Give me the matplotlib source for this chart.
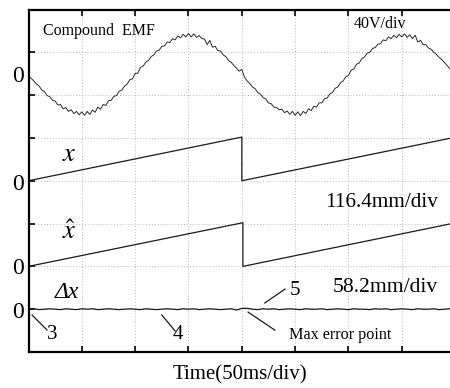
import numpy as np
import matplotlib
matplotlib.use("Agg")
import matplotlib.pyplot as plt

plt.rcParams['font.family'] = ['Liberation Serif', 'DejaVu Serif']
plt.rcParams['mathtext.fontset'] = 'stix'

# ---- data (in oscilloscope divisions) ----
EMF_STEP = 0.05          # time step between EMF samples (div)
EMF_ZERO = 6.48          # EMF channel zero level (div)
emf = [-0.03, -0.09, -0.15, -0.22, -0.27, -0.36, -0.40, -0.49, -0.52, -0.60,
       -0.62, -0.71, -0.70, -0.80, -0.77, -0.86, -0.82, -0.91, -0.86, -0.94,
       -0.87, -0.95, -0.86, -0.93, -0.83, -0.88, -0.76, -0.81, -0.70, -0.72,
       -0.61, -0.60, -0.51, -0.49, -0.39, -0.36, -0.27, -0.22, -0.12, -0.10,
       0.03, 0.03, 0.17, 0.20, 0.29, 0.33, 0.42, 0.46, 0.55, 0.57,
       0.66, 0.67, 0.76, 0.75, 0.84, 0.81, 0.90, 0.86, 0.94, 0.88,
       0.96, 0.88, 0.95, 0.87, 0.91, 0.84, 0.83, 0.70, 0.80, 0.64,
       0.66, 0.56, 0.55, 0.46, 0.42, 0.33, 0.29, 0.21, 0.15, 0.08,
       0.12, -0.06, -0.15, -0.21, -0.29, -0.33, -0.42, -0.46, -0.54, -0.57,
       -0.66, -0.68, -0.76, -0.77, -0.82, -0.81, -0.89, -0.85, -0.93, -0.86,
       -0.95, -0.87, -0.96, -0.86, -0.91, -0.80, -0.84, -0.74, -0.76, -0.66,
       -0.66, -0.56, -0.55, -0.45, -0.42, -0.32, -0.29, -0.19, -0.15, -0.05,
       -0.02, 0.10, 0.13, 0.24, 0.27, 0.37, 0.41, 0.50, 0.52, 0.61,
       0.63, 0.71, 0.72, 0.81, 0.79, 0.88, 0.84, 0.92, 0.86, 0.94,
       0.88, 0.95, 0.87, 0.93, 0.84, 0.92, 0.76, 0.80, 0.70, 0.70,
       0.62, 0.59, 0.52, 0.47, 0.40, 0.35, 0.28, 0.21, 0.14]

X_ZERO = 4.0
x_t = [0.0, 4.0, 4.0, 7.9]
x_v = [0.0, 1.02, 0.0, 0.99]

XH_ZERO = 2.0
xh_t = [0.0, 4.02, 4.02, 7.9]
xh_v = [0.0, 1.02, 0.0, 0.99]

DX_STEP = 0.1
DX_ZERO = 1.0
dx = [0.00, 0.01, -0.01, 0.00, 0.01, 0.00, -0.01, 0.01, 0.00, -0.01,
      0.01, 0.00, 0.01, -0.01, 0.00, 0.01, 0.00, -0.01, 0.00, 0.01,
      0.00, -0.01, 0.01, 0.00, -0.01, 0.00, 0.01, 0.00, -0.01, 0.01,
      0.00, 0.01, -0.01, 0.00, 0.01, 0.00, -0.01, 0.00, 0.01, -0.02,
      0.02, 0.02, 0.00, -0.01, 0.01, 0.00, 0.01, -0.01, 0.00, 0.01,
      0.00, -0.01, 0.01, 0.00, 0.00, 0.01, -0.01, 0.00, 0.01, 0.00,
      -0.01, 0.01, 0.00, 0.00, -0.01, 0.01, 0.00, 0.01, -0.01, 0.00,
      0.01, 0.00, -0.01, 0.01, 0.00, 0.00, 0.01, -0.01, 0.00, 0.01]

# ---- figure ----
fig = plt.figure(figsize=(4.5, 3.88), dpi=100)
ax = fig.add_axes([28.5 / 450, 36 / 388, 421.5 / 450, 342.5 / 388])
ax.set_xlim(0, 421.5 / 53.33)
ax.set_ylim(0, 8)
ax.set_xticks(range(0, 8))
ax.set_yticks(range(0, 9))
ax.grid(True, color='#b8b8b8', linestyle=(0, (1, 2)), linewidth=0.7)
ax.tick_params(direction='in', top=True, bottom=True, left=True, right=False,
               labelbottom=False, labelleft=False, length=4, width=1.2)
for s in ['left', 'top', 'bottom']:
    ax.spines[s].set_linewidth(1.6)
ax.spines['right'].set_visible(False)

lc = '#1a1a1a'
t_emf = np.arange(len(emf)) * EMF_STEP
ax.plot(t_emf, EMF_ZERO + np.array(emf), color='#2a2a2a', lw=0.7)
ax.plot(x_t, X_ZERO + np.array(x_v), color=lc, lw=0.9)
ax.plot(xh_t, XH_ZERO + np.array(xh_v), color=lc, lw=0.9)
t_dx = np.arange(len(dx)) * DX_STEP
ax.plot(t_dx, DX_ZERO + np.array(dx), color=lc, lw=0.9)

# zero labels
for yv in [6.43, 3.91, 1.94, 0.93]:
    ax.text(-0.197, yv, '0', fontsize=17, ha='center', va='center', clip_on=False)

ax.text(0.27, 7.50, 'Compound  EMF', fontsize=11.5, ha='left', va='center')
ax.text(6.10, 7.66, '40V/div', fontsize=11.5, ha='left', va='center')
ax.text(0.63, 4.60, '$x$', fontsize=19, ha='left', va='center')
ax.text(0.63, 2.80, r'$\hat{x}$', fontsize=19, ha='left', va='center')
ax.text(5.56, 3.50, '116.4mm/div', fontsize=15.3, ha='left', va='center')
ax.text(5.71, 1.50, '58.2mm/div', fontsize=15.6, ha='left', va='center')
ax.text(0.50, 1.38, 'Δx', fontsize=17, fontstyle='italic', ha='left', va='center')

# annotations
ax.plot([0.066, 0.347], [0.864, 0.514], color=lc, lw=0.9)
ax.text(0.44, 0.40, '3', fontsize=15, ha='center', va='center')
ax.plot([2.50, 2.75], [0.864, 0.49], color=lc, lw=0.9)
ax.text(2.80, 0.40, '4', fontsize=15, ha='center', va='center')
ax.plot([4.43, 4.81], [1.145, 1.47], color=lc, lw=0.9)
ax.text(5.00, 1.43, '5', fontsize=15, ha='center', va='center')
ax.plot([4.12, 4.62], [0.93, 0.51], color=lc, lw=0.9)
ax.text(4.89, 0.40, 'Max error point', fontsize=11.6, ha='left', va='center')

fig.text(240 / 450, 1 - 375 / 388, 'Time(50ms/div)', fontsize=15, ha='center', va='center')

fig.savefig('out.png', dpi=100)
